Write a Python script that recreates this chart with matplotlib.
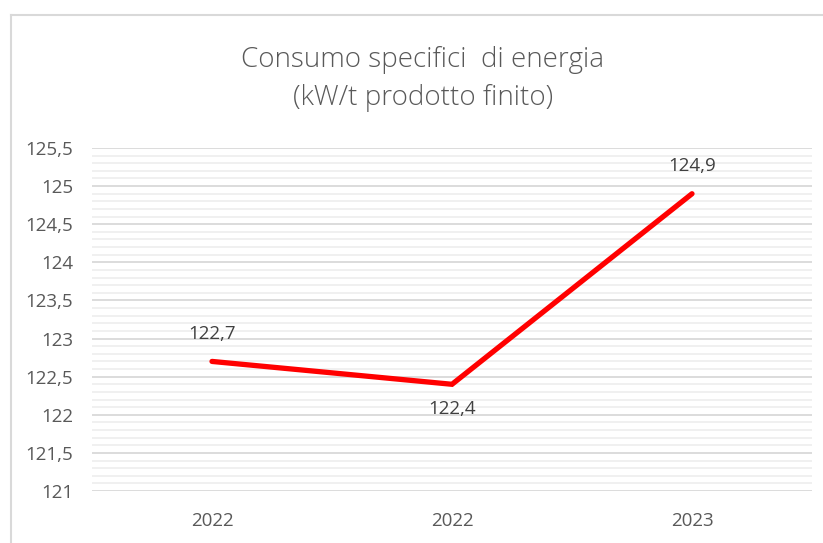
import matplotlib.pyplot as plt
from matplotlib.ticker import MultipleLocator, FuncFormatter
from matplotlib.lines import Line2D

plt.rcParams['font.family'] = ['Open Sans', 'DejaVu Sans']

categories = ['2022', '2022', '2023']
values = [122.7, 122.4, 124.9]
label_pos = ['above', 'below', 'above']
title = 'Consumo specifici  di energia\n(kW/t prodotto finito)'

grey = '#595959'

fig = plt.figure(figsize=(8.23, 5.43), dpi=100)
ax = fig.add_axes([92/823, 1-491/543, 720/823, 343/543])

x = range(len(categories))
ax.plot(x, values, color='#ff0000', lw=3.8, solid_capstyle='round', solid_joinstyle='miter', zorder=3)

for i, v in enumerate(values):
    txt = f'{v:.1f}'.replace('.', ',')
    off = 20 if label_pos[i] == 'above' else -18
    ax.annotate(txt, (i, v), xytext=(0, off), textcoords='offset points',
                ha='center', va='center', fontsize=13.5, color='#404040')

ax.set_xlim(-0.5, 2.5)
ax.set_ylim(121, 125.5)
ax.yaxis.set_major_locator(MultipleLocator(0.5))
ax.yaxis.set_minor_locator(MultipleLocator(0.1))
ax.yaxis.set_major_formatter(FuncFormatter(lambda v, p: f'{v:g}'.replace('.', ',')))
ax.set_xticks(list(x))
ax.set_xticklabels(categories)

ax.grid(which='major', axis='y', color='#d9d9d9', lw=1.3, zorder=0)
ax.grid(which='minor', axis='y', color='#efefef', lw=1.3, zorder=0)
for s in ax.spines.values():
    s.set_visible(False)
ax.tick_params(which='both', length=0, labelsize=13.5, labelcolor=grey)
ax.tick_params(axis='y', pad=13.5)
ax.tick_params(axis='x', pad=15)

fig.text(423/823, 1-79/543, title, ha='center', va='center', fontsize=20,
         color=grey, linespacing=1.5, fontweight='light')

# chart frame
fig.add_artist(Line2D([11/823, 11/823], [0, 1-15/543], color='#d9d9d9', lw=1.5))
fig.add_artist(Line2D([11/823, 1], [1-15/543, 1-15/543], color='#d9d9d9', lw=1.5))

fig.savefig('out.png', dpi=100)
